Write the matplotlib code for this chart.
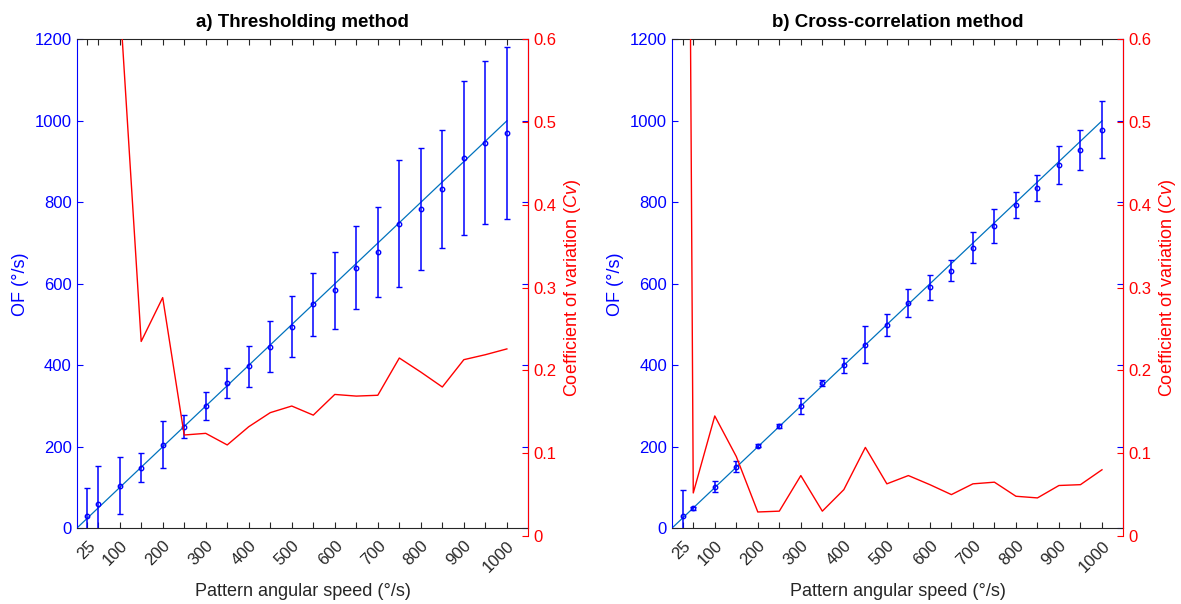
#!/usr/bin/env python3
# -*- coding: utf-8 -*-

import matplotlib
matplotlib.use('Agg')
import matplotlib.pyplot as plt

plt.rcParams['font.family'] = ['Liberation Sans', 'DejaVu Sans']
plt.rcParams['mathtext.fontset'] = 'custom'
plt.rcParams['mathtext.it'] = 'Liberation Sans:italic'
plt.rcParams['mathtext.rm'] = 'Liberation Sans'

#pattern speeds (deg/s)
speeds = [25, 50, 100, 150, 200, 250, 300, 350, 400, 450, 500,
	550, 600, 650, 700, 750, 800, 850, 900, 950, 1000]
tick_labels = ['25', '', '100', '', '200', '', '300', '', '400', '', '500',
	'', '600', '', '700', '', '800', '', '900', '', '1000']
ident_x = [0, 1000]
ident_y = [0, 1000]

#a) thresholding
thr_mean = [30, 60, 105, 149, 205, 249, 300, 357, 398, 446, 495,
	550, 584, 639, 678, 748, 783, 833, 909, 946, 969]
thr_err = [70, 94, 70, 35, 58, 28, 35, 37, 50, 63, 75,
	77, 95, 102, 110, 155, 150, 145, 188, 200, 211]
thr_cv = [2.3, 1.55, 0.65, 0.235, 0.288, 0.122, 0.124, 0.110, 0.132, 0.149, 0.157,
	0.146, 0.171, 0.169, 0.170, 0.215, 0.198, 0.180, 0.213, 0.219, 0.226]

#b) cross-correlation
xc_mean = [30, 49, 102, 151, 203, 251, 301, 357, 400, 451, 499,
	553, 591, 632, 689, 742, 794, 836, 891, 928, 978]
xc_err = [64, 3, 14, 13, 4, 4, 20, 7, 19, 46, 26,
	35, 30, 26, 37, 41, 32, 32, 46, 49, 70]
xc_cv = [2.2, 0.052, 0.145, 0.096, 0.029, 0.030, 0.073, 0.030, 0.056, 0.107, 0.063,
	0.073, 0.062, 0.050, 0.063, 0.065, 0.048, 0.046, 0.061, 0.062, 0.080]

BLUE = '#0000FF'
RED = '#FF0000'
FIT = '#0072BD'
DARK = '#262626'

def panel(fig, left, mean, err, cv, title):
	ax = fig.add_axes([left, 0.1253, 0.3825, 0.8096])
	ax.plot(ident_x, ident_y, color=FIT, lw=0.9, zorder=2)
	ax.errorbar(speeds, mean, yerr=err, fmt='o', color=BLUE, ms=3.2,
		mfc='none', mew=1.0, elinewidth=1.1, capsize=2.5, capthick=1.1, zorder=3)
	ax.set_xlim(0, 1050)
	ax.set_ylim(0, 1200)
	ax.set_yticks(range(0, 1201, 200))
	ax.set_xticks(speeds)
	ax.set_xticklabels(tick_labels, rotation=45, ha='right', va='top',
		rotation_mode='anchor')
	ax.tick_params(axis='x', direction='in', length=4.5, top=True, colors=DARK,
		labelsize=12, pad=7)
	ax.tick_params(axis='y', direction='in', length=4.5, right=True, colors=BLUE,
		labelsize=12)
	ax.spines['left'].set_color(BLUE)
	ax.spines['right'].set_color(BLUE)
	ax.spines['bottom'].set_color(DARK)
	ax.spines['top'].set_color(DARK)
	ax.set_xlabel('Pattern angular speed (°/s)', fontsize=13, color=DARK, labelpad=6)
	ax.set_ylabel('OF (°/s)', fontsize=13, color=BLUE)
	ax.set_title(title, fontsize=13.5, fontweight='bold', color='black', pad=9)

	#cv axis sits a little lower than the main box
	ax2 = fig.add_axes([left, 0.1126, 0.3825, 0.8223])
	ax2.patch.set_visible(False)
	ax2.plot(speeds, cv, color=RED, lw=1.0)
	ax2.set_xlim(0, 1050)
	ax2.set_ylim(0, 0.6)
	ax2.set_xticks([])
	ax2.set_yticks([0, 0.1, 0.2, 0.3, 0.4, 0.5, 0.6])
	ax2.set_yticklabels(['0', '0.1', '0.2', '0.3', '0.4', '0.5', '0.6'])
	ax2.yaxis.tick_right()
	ax2.yaxis.set_label_position('right')
	ax2.tick_params(axis='y', direction='in', length=4.5, colors=RED, labelsize=12)
	for s in ['left', 'top', 'bottom']:
		ax2.spines[s].set_visible(False)
	ax2.spines['right'].set_color(RED)
	ax2.set_ylabel('Coefficient of variation ($\\it{Cv}$)', fontsize=13, color=RED)
	return ax, ax2

fig = plt.figure(figsize=(11.81, 6.04), dpi=100)
panel(fig, 0.0649, thr_mean, thr_err, thr_cv, 'a) Thresholding method')
panel(fig, 0.5688, xc_mean, xc_err, xc_cv, 'b) Cross-correlation method')
plt.savefig('out.png', dpi=100)
plt.close()
print('Saved plot to', 'out.png')
